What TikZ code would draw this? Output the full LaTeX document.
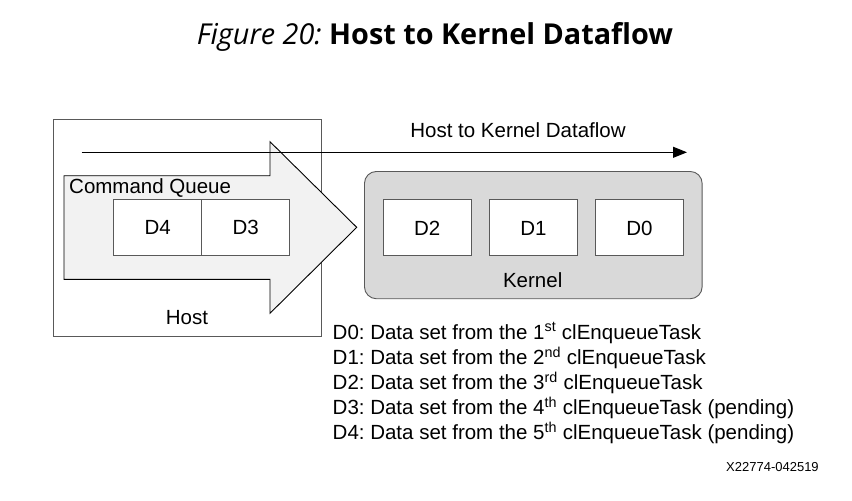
\documentclass[tikz,border=0pt]{standalone}
\usepackage{fontspec}
\setmainfont{Liberation Sans}
\newfontfamily\titlefont{Open Sans}
\usetikzlibrary{arrows.meta}
\definecolor{arrowfill}{HTML}{F2F2F2}
\definecolor{kernfill}{HTML}{D9D9D9}
\definecolor{edgegray}{HTML}{595959}
\tikzset{
  databox/.style={draw=edgegray, fill=white, line width=0.9pt, minimum width=88pt, minimum height=56pt, inner sep=0pt, text height=14.5pt, text depth=0pt, font=\fontsize{20.5}{22}\selectfont},
  lbl/.style={inner sep=0pt, font=\fontsize{20.5}{22}\selectfont},
  legend/.style={inner sep=0pt, anchor=west, font=\fontsize{20.5}{22}\selectfont}
}
\begin{document}
\frenchspacing
\begin{tikzpicture}[x=1pt,y=-1pt]
\useasboundingbox (0,0) rectangle (852,501);
% title
\node[inner sep=0pt] (title) at (435,37) {\titlefont\fontsize{28.8}{30}\selectfont\textit{Figure 20:} \textbf{Host to Kernel Dataflow}};
% host box
\node[draw=edgegray, line width=0.9pt, minimum width=268pt, minimum height=217pt, inner sep=0pt, anchor=north west] (host) at (53,119) {};
\node[lbl] (hostlbl) at (187,318) {Host};
% big arrow
\draw[fill=arrowfill, line width=0.9pt] (64,175.7) -- (270,175.7) -- (270,141.7) -- (356.7,227.3) -- (270,313.3) -- (270,279.3) -- (64,279.3) -- cycle;
\node[lbl, anchor=west] (cq) at (69,188) {Command Queue};
\node[databox, anchor=north west] (d4) at (113.3,199) {D4};
\node[databox, anchor=north west] (d3) at (201.3,199) {D3};
% kernel
\node[draw=edgegray, fill=kernfill, line width=0.9pt, rounded corners=12pt, minimum width=337.7pt, minimum height=127.3pt, inner sep=0pt, anchor=north west] (kernel) at (364,171) {};
\node[lbl] (kernlbl) at (532.7,280) {Kernel};
\node[databox, anchor=north west] (d2) at (382.7,199.3) {D2};
\node[databox, anchor=north west] (d1) at (489,199.3) {D1};
\node[databox, anchor=north west] (d0) at (595,199.3) {D0};
% flow arrow
\coordinate (fs) at (81.7,152.3);
\coordinate (fe) at (687,152.3);
\draw[line width=0.9pt, -{Triangle[length=14pt, width=11pt]}] (fs) -- (fe);
\node[lbl] (flowlbl) at (518,130) {Host to Kernel Dataflow};
% legend
\node[legend] (l0) at (332.5,333) {D0: Data set from the 1\textsuperscript{st} clEnqueueTask};
\node[legend] (l1) at (332.5,358) {D1: Data set from the 2\textsuperscript{nd} clEnqueueTask};
\node[legend] (l2) at (332.5,383) {D2: Data set from the 3\textsuperscript{rd} clEnqueueTask};
\node[legend] (l3) at (332.5,408) {D3: Data set from the 4\textsuperscript{th} clEnqueueTask (pending)};
\node[legend] (l4) at (332.5,433) {D4: Data set from the 5\textsuperscript{th} clEnqueueTask (pending)};
\node[inner sep=0pt, anchor=west, font=\fontsize{13}{15}\selectfont] (code) at (726,467) {X22774-042519};
\end{tikzpicture}
\end{document}
